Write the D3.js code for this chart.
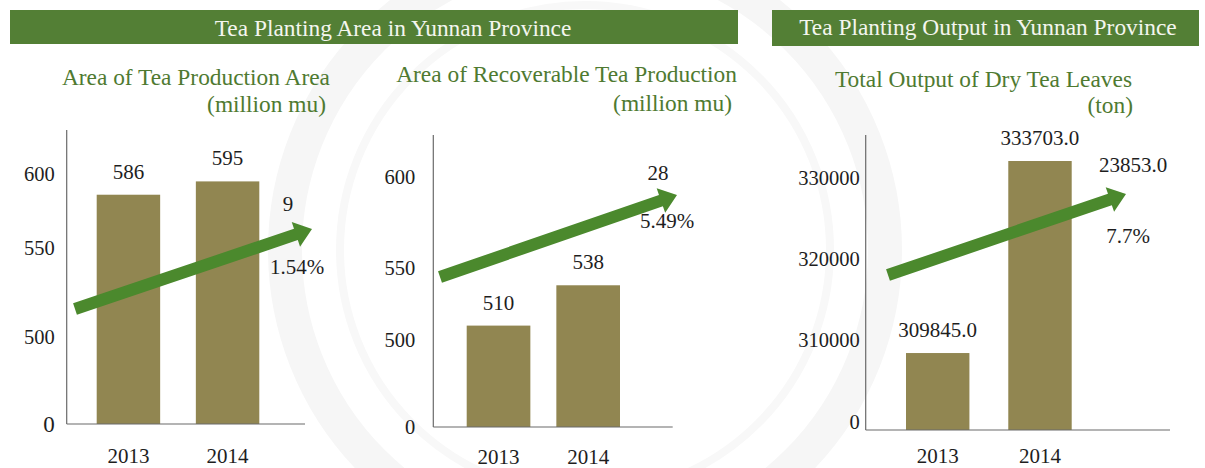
<!DOCTYPE html>
<html>
<head>
<meta charset="utf-8">
<script src="https://cdn.jsdelivr.net/npm/d3@7/dist/d3.min.js"></script>
<style>
  html, body { margin: 0; padding: 0; background: #ffffff; }
  svg { display: block; }
  text { font-family: "Liberation Serif", "Times New Roman", Times, serif; }
</style>
</head>
<body>
<svg id="chart" width="1205" height="468"></svg>
<script>
// ---- data ----
const years = ["2013", "2014"];

const plantingAreaValues = [586, 595];          // million mu
const recoverableAreaValues = [510, 538];       // million mu
const dryTeaOutputValues = [309845.0, 333703.0]; // ton

const plantingAreaTicks = [0, 500, 550, 600];
const recoverableAreaTicks = [0, 500, 550, 600];
const dryTeaOutputTicks = [0, 310000, 320000, 330000];

const growthAmounts = ["9", "28", "23853.0"];
const growthRates = ["1.54%", "5.49%", "7.7%"];

const valueFormats = [d3.format("d"), d3.format("d"), d3.format(".1f")];

const bannerTitles = ["Tea Planting Area in Yunnan Province", "Tea Planting Output in Yunnan Province"];
const panelTitles = [
  ["Area of Tea Production Area", "(million mu)"],
  ["Area of Recoverable Tea Production", "(million mu)"],
  ["Total Output of Dry Tea Leaves", "(ton)"]
];

// ---- styling ----
const SERIF = "'Liberation Serif', 'Times New Roman', Times, serif";
const GREEN_BANNER = "#537f35";
const GREEN_TEXT = "#4f7a31";
const GREEN_ARROW = "#4b892d";
const BAR_FILL = "#918651";
const AXIS_COLOR = "#6a6a6a";
const TEXT_COLOR = "#1e1e1e";

const svg = d3.select("#chart");

// faint seal watermark behind the charts
const seal = svg.append("g").attr("fill", "none");
seal.append("circle").attr("cx", 585).attr("cy", 250).attr("r", 300)
  .attr("stroke", "#f6f6f6").attr("stroke-width", 34);
seal.append("circle").attr("cx", 585).attr("cy", 250).attr("r", 245)
  .attr("stroke", "#f8f8f8").attr("stroke-width", 8);

// ---- banners ----
const banners = [
  { x0: 10, x1: 738, y0: 10, y1: 44, textX: 393, textY: 36 },
  { x0: 772, x1: 1199, y0: 10, y1: 46, textX: 988, textY: 35 }
];
banners.forEach((b, i) => {
  svg.append("rect")
    .attr("x", b.x0).attr("y", b.y0)
    .attr("width", b.x1 - b.x0).attr("height", b.y1 - b.y0)
    .attr("fill", GREEN_BANNER);
  svg.append("text")
    .attr("x", b.textX).attr("y", b.textY)
    .attr("text-anchor", "middle")
    .attr("fill", "#f4f6ef")
    .style("font-family", SERIF)
    .style("font-size", "23.4px")
    .text(bannerTitles[i]);
});

// ---- panel layout ----
// Each panel uses a broken (piecewise) value axis: the zero tick sits at the
// baseline and the upper ticks are spread across the plot height.
const panels = [
  {
    values: plantingAreaValues, ticks: plantingAreaTicks,
    yDomain: [0, 500, 550, 600], yRange: [424, 337, 248, 174],
    axisX: 66.7, axisTop: 130, axisEnd: 305,
    barsFrom: 96.7, barsTo: 259.3, padInner: 0.36,
    tickPad: 12, tickDy: () => 0, tickSize: d => d === 0 ? 23 : 20.5,
    yearY: 463,
    titleEnd: 330, titleY: 85, unitEnd: 326, unitY: 112,
    arrow: { x0: 75, y0: 309, x1: 312, y1: 229 },
    amountOff: [-24, -18], rateOff: [-15, 45]
  },
  {
    values: recoverableAreaValues, ticks: recoverableAreaTicks,
    yDomain: [0, 500, 550, 600], yRange: [427, 340, 268, 177],
    axisX: 433.3, axisTop: 135, axisEnd: 672.7,
    barsFrom: 466.7, barsTo: 620, padInner: 0.29,
    tickPad: 18, tickDy: () => 0, tickSize: () => 20.5,
    yearY: 464,
    titleEnd: 737, titleY: 82, unitEnd: 732, unitY: 111,
    arrow: { x0: 440, y0: 277, x1: 677, y1: 195 },
    amountOff: [-19, -15], rateOff: [-10, 33]
  },
  {
    values: dryTeaOutputValues, ticks: dryTeaOutputTicks,
    yDomain: [0, 310000, 330000], yRange: [430, 353, 191],
    axisX: 865.7, axisTop: 135, axisEnd: 1170,
    barsFrom: 906, barsTo: 1071.7, padInner: 0.38,
    tickPad: 6, tickDy: d => d === 0 ? -8 : -13, tickSize: () => 20.5,
    yearY: 463,
    titleEnd: 1132, titleY: 87, unitEnd: 1133, unitY: 113,
    arrow: { x0: 888, y0: 275, x1: 1126, y1: 194 },
    amountOff: [7, -22], rateOff: [2, 49]
  }
];

panels.forEach((p, i) => {
  const g = svg.append("g");

  const y = d3.scaleLinear().domain(p.yDomain).range(p.yRange);
  const baseline = y(0);
  const x = d3.scaleBand()
    .domain(years)
    .range([p.barsFrom, p.barsTo])
    .paddingInner(p.padInner)
    .paddingOuter(0);

  // titles
  g.append("text")
    .attr("x", p.titleEnd).attr("y", p.titleY)
    .attr("text-anchor", "end")
    .attr("fill", GREEN_TEXT)
    .style("font-family", SERIF)
    .style("font-size", "23.4px")
    .text(panelTitles[i][0]);
  g.append("text")
    .attr("x", p.unitEnd).attr("y", p.unitY)
    .attr("text-anchor", "end")
    .attr("fill", GREEN_TEXT)
    .style("font-family", SERIF)
    .style("font-size", "23.4px")
    .text(panelTitles[i][1]);

  // bars
  g.selectAll("rect.bar")
    .data(p.values)
    .join("rect")
    .attr("class", "bar")
    .attr("x", (d, j) => x(years[j]))
    .attr("y", d => y(d))
    .attr("width", x.bandwidth())
    .attr("height", d => baseline - y(d))
    .attr("fill", BAR_FILL);

  // value labels
  g.selectAll("text.value")
    .data(p.values)
    .join("text")
    .attr("class", "value")
    .attr("x", (d, j) => x(years[j]) + x.bandwidth() / 2)
    .attr("y", d => y(d) - 16)
    .attr("text-anchor", "middle")
    .attr("fill", TEXT_COLOR)
    .style("font-family", SERIF)
    .style("font-size", "21px")
    .text(d => valueFormats[i](d));

  // value axis
  const yAxis = g.append("g")
    .attr("transform", `translate(${p.axisX},0)`)
    .call(d3.axisLeft(y).tickValues(p.ticks).tickSize(0).tickPadding(p.tickPad).tickFormat(d3.format("d")));
  yAxis.select(".domain").remove();
  yAxis.selectAll("text")
    .attr("dy", "0.34em")
    .attr("transform", d => `translate(0,${p.tickDy(d)})`)
    .attr("fill", TEXT_COLOR)
    .style("font-family", SERIF)
    .style("font-size", d => p.tickSize(d) + "px");

  // year axis
  const xAxis = g.append("g")
    .attr("transform", `translate(0,${baseline})`)
    .call(d3.axisBottom(x).tickSize(0).tickPadding(0));
  xAxis.select(".domain").remove();
  xAxis.selectAll("text")
    .attr("dy", null)
    .attr("y", p.yearY - baseline)
    .attr("fill", TEXT_COLOR)
    .style("font-family", SERIF)
    .style("font-size", "21px");

  // axis lines
  g.append("line")
    .attr("x1", p.axisX).attr("x2", p.axisX)
    .attr("y1", p.axisTop).attr("y2", baseline)
    .attr("stroke", AXIS_COLOR).attr("stroke-width", 1.2);
  g.append("line")
    .attr("x1", p.axisX).attr("x2", p.axisEnd)
    .attr("y1", baseline).attr("y2", baseline)
    .attr("stroke", AXIS_COLOR).attr("stroke-width", 1.2);

  // growth arrow
  const a = p.arrow;
  const len = Math.hypot(a.x1 - a.x0, a.y1 - a.y0);
  const ang = Math.atan2(a.y1 - a.y0, a.x1 - a.x0) * 180 / Math.PI;
  const shaft = 12, headW = 26, headL = 17;
  const arrowPath = d3.path();
  arrowPath.moveTo(0, -shaft / 2);
  arrowPath.lineTo(len - headL, -shaft / 2);
  arrowPath.lineTo(len - headL, -headW / 2);
  arrowPath.lineTo(len, 0);
  arrowPath.lineTo(len - headL, headW / 2);
  arrowPath.lineTo(len - headL, shaft / 2);
  arrowPath.lineTo(0, shaft / 2);
  arrowPath.closePath();
  g.append("path")
    .attr("d", arrowPath.toString())
    .attr("transform", `translate(${a.x0},${a.y0}) rotate(${ang})`)
    .attr("fill", GREEN_ARROW);

  // growth labels
  g.append("text")
    .attr("x", a.x1 + p.amountOff[0]).attr("y", a.y1 + p.amountOff[1])
    .attr("text-anchor", "middle")
    .attr("fill", TEXT_COLOR)
    .style("font-family", SERIF)
    .style("font-size", "21px")
    .text(growthAmounts[i]);
  g.append("text")
    .attr("x", a.x1 + p.rateOff[0]).attr("y", a.y1 + p.rateOff[1])
    .attr("text-anchor", "middle")
    .attr("fill", TEXT_COLOR)
    .style("font-family", SERIF)
    .style("font-size", "21px")
    .text(growthRates[i]);
});
</script>
</body>
</html>
